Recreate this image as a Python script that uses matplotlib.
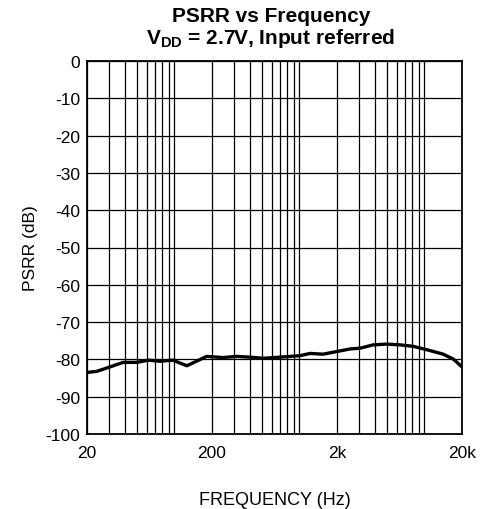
import matplotlib
matplotlib.use("Agg")
import matplotlib.pyplot as plt
from matplotlib.ticker import LogLocator, FixedLocator, NullFormatter

plt.rcParams['font.family'] = ['Liberation Sans', 'DejaVu Sans']
plt.rcParams['mathtext.fontset'] = 'custom'
plt.rcParams['mathtext.rm'] = 'Liberation Sans:bold'
plt.rcParams['mathtext.bf'] = 'Liberation Sans:bold'
plt.rcParams['axes.unicode_minus'] = False

freq = [20, 24, 39, 50, 62, 77, 97, 126, 181, 245, 316, 403, 514, 700, 1012,
        1216, 1546, 1990, 2541, 3055, 3900, 5000, 6380, 8150, 10450, 14160,
        17000, 20000]
psrr = [-83.5, -83.2, -80.8, -80.8, -80.2, -80.5, -80.2, -81.7, -79.2, -79.5,
        -79.2, -79.4, -79.7, -79.4, -79.0, -78.4, -78.6, -77.9, -77.2, -77.0,
        -76.1, -75.9, -76.1, -76.5, -77.4, -78.6, -79.9, -82.0]
xticks = [20, 200, 2000, 20000]
xticklabels = ['20', '200', '2k', '20k']
yticks = list(range(-100, 1, 10))

fig = plt.figure(figsize=(4.82, 5.10), dpi=100)
ax = fig.add_axes([87/482, 1 - 435/510, 375/482, 373/510])
ax.set_xscale('log')
ax.set_xlim(20, 20000)
ax.set_ylim(-100, 0)

ax.plot(freq, psrr, color='black', lw=2.4, solid_joinstyle='round', zorder=3)

ax.xaxis.set_major_locator(FixedLocator(xticks))
ax.set_xticklabels(xticklabels)
ax.xaxis.set_minor_locator(LogLocator(base=10, subs=range(1, 10), numticks=20))
ax.xaxis.set_minor_formatter(NullFormatter())
ax.set_yticks(yticks)
ax.grid(True, which='both', axis='x', color='black', lw=0.9)
ax.grid(True, which='major', axis='y', color='black', lw=0.9)
ax.tick_params(which='both', length=0, labelsize=12.5)
ax.tick_params(axis='x', pad=8)
ax.tick_params(axis='y', pad=5)
for s in ax.spines.values():
    s.set_linewidth(1.3)

ax.set_xlabel('FREQUENCY (Hz)', fontsize=13, labelpad=22)
ax.set_ylabel('PSRR (dB)', fontsize=12.5, labelpad=5)

fig.text(0.563, 1 - 16/510, 'PSRR vs Frequency', ha='center', va='center',
         fontsize=15, fontweight='bold')
fig.text(0.561, 1 - 38/510, r'V$_{\mathrm{DD}}$ = 2.7V, Input referred',
         ha='center', va='center', fontsize=15, fontweight='bold')

fig.savefig('out.png', dpi=100)
